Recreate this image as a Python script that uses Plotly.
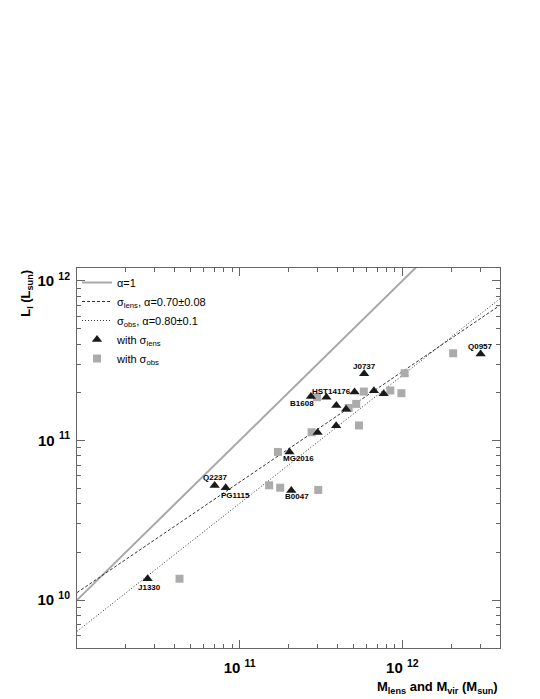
import plotly.graph_objects as go

# lensing galaxies, masses from lens models (black triangles)
lens_mass = [10**v for v in [10.434, 10.846, 10.914, 11.306, 11.317, 11.438, 11.533, 11.706,
                             11.765, 11.594, 11.654, 11.825, 11.885, 11.593, 11.479, 12.481]]
lens_lum = [10**v for v in [10.133, 10.717, 10.703, 10.928, 10.686, 11.275, 11.271, 11.303,
                            11.417, 11.219, 11.196, 11.311, 11.292, 11.092, 11.050, 11.542]]

# same lenses, virial masses from observed dispersion (grey squares)
vir_mass = [10**v for v in [10.630, 11.181, 11.249, 11.483, 11.235, 11.442, 11.733, 11.475,
                            11.763, 11.926, 11.994, 12.014, 11.716, 11.670, 12.312]]
vir_lum = [10**v for v in [10.134, 10.719, 10.704, 10.690, 10.928, 11.051, 11.094, 11.271,
                           11.306, 11.313, 11.296, 11.421, 11.229, 11.203, 11.546]]

# fitted relations, end points
line_mass = [1e10, 4e12]
one_lum = [1e10, 4e12]
fit_lens_lum = [10**10.047, 10**11.848]
fit_obs_lum = [10**9.804, 10**11.89]

# labelled systems: name, log M, log L, shift x, shift y
labels = [
    ("J1330", 10.434, 10.133, 2, -9),
    ("Q2237", 10.846, 10.717, 1, 8),
    ("PG1115", 10.914, 10.703, 10, -8),
    ("MG2016", 11.306, 10.928, 9, -7),
    ("B0047", 11.317, 10.686, 6, -6),
    ("B1608", 11.438, 11.275, -9, -7),
    ("HST14176", 11.533, 11.271, 5, 6),
    ("J0737", 11.765, 11.417, 0, 7),
    ("Q0957", 12.481, 11.542, 0, 7),
]

y_tick_vals = [1e10, 1e11, 1e12]
y_tick_text = ["10 <sup>10</sup>", "10 <sup>11</sup>", "10 <sup>12</sup>"]
x_tick_vals = [1e11, 1e12]
x_tick_text = ["10 <sup>11</sup>", "10 <sup>12</sup>"]
minor_vals = [m * 10**e for e in (9, 10, 11, 12) for m in range(2, 10)]

fig = go.Figure()
fig.add_trace(go.Scatter(x=line_mass, y=one_lum, mode="lines", name="α=1", legendrank=1,
                         line=dict(color="#a8a8a8", width=2)))
fig.add_trace(go.Scatter(x=line_mass, y=fit_lens_lum, mode="lines", legendrank=2,
                         name="σ<sub>lens</sub>, α=0.70±0.08",
                         line=dict(color="#333333", width=1, dash="3px,2px")))
fig.add_trace(go.Scatter(x=line_mass, y=fit_obs_lum, mode="lines", legendrank=3,
                         name="σ<sub>obs</sub>, α=0.80±0.1",
                         line=dict(color="#333333", width=1, dash="1px,2px")))
fig.add_trace(go.Scatter(x=vir_mass, y=vir_lum, mode="markers", name="with σ<sub>obs</sub>",
                         legendrank=5, marker=dict(symbol="square", color="#ababab", size=8)))
fig.add_trace(go.Scatter(x=lens_mass, y=lens_lum, mode="markers", name="with σ<sub>lens</sub>",
                         legendrank=4, marker=dict(symbol="triangle-up", color="#1a1a1a", size=9)))

for name, lm, ll, dx, dy in labels:
    fig.add_annotation(x=lm, y=ll, text="<b>" + name + "</b>", showarrow=False,
                       xshift=dx, yshift=dy, font=dict(size=8, color="black"))

axis_style = dict(type="log", showgrid=False, zeroline=False, showline=True,
                  linecolor="#666666", linewidth=1, mirror="ticks",
                  ticks="inside", ticklen=8, tickcolor="#666666", tickmode="array",
                  tickfont=dict(family="Liberation Sans", size=15, color="black", weight="bold"),
                  minor=dict(ticks="inside", ticklen=4, tickcolor="#666666",
                             tickmode="array", tickvals=minor_vals))

fig.update_xaxes(axis_style, range=[10, 12.6], tickvals=x_tick_vals, ticktext=x_tick_text,
                 ticklabelstandoff=6)
fig.update_yaxes(axis_style, range=[9.7, 12.08], tickvals=y_tick_vals, ticktext=y_tick_text,
                 ticklabelstandoff=3)

fig.add_annotation(xref="paper", yref="paper", x=1, y=-0.075, xanchor="right", yanchor="top",
                   text="<b>M<sub>lens</sub> and M<sub>vir</sub> (M<sub>sun</sub>)</b>",
                   showarrow=False, font=dict(family="Liberation Sans", size=13, color="black"))
fig.add_annotation(xref="paper", yref="paper", x=-0.095, y=1, xanchor="right", yanchor="top",
                   text="<b>L<sub>I</sub> (L<sub>sun</sub>)</b>", textangle=-90,
                   showarrow=False, font=dict(family="Liberation Sans", size=13, color="black"))

# page body keeps an 8px margin, so the figure is shifted by 8px
fig.update_layout(
    width=532, height=691,
    margin=dict(l=69, r=40, t=260, b=51),
    plot_bgcolor="white", paper_bgcolor="white",
    font=dict(family="Liberation Sans", color="black"),
    legend=dict(x=0.0, y=1.0, xanchor="left", yanchor="top", bgcolor="rgba(0,0,0,0)",
                font=dict(size=11), itemwidth=30, tracegroupgap=0),
)
fig.write_html("out.html")
